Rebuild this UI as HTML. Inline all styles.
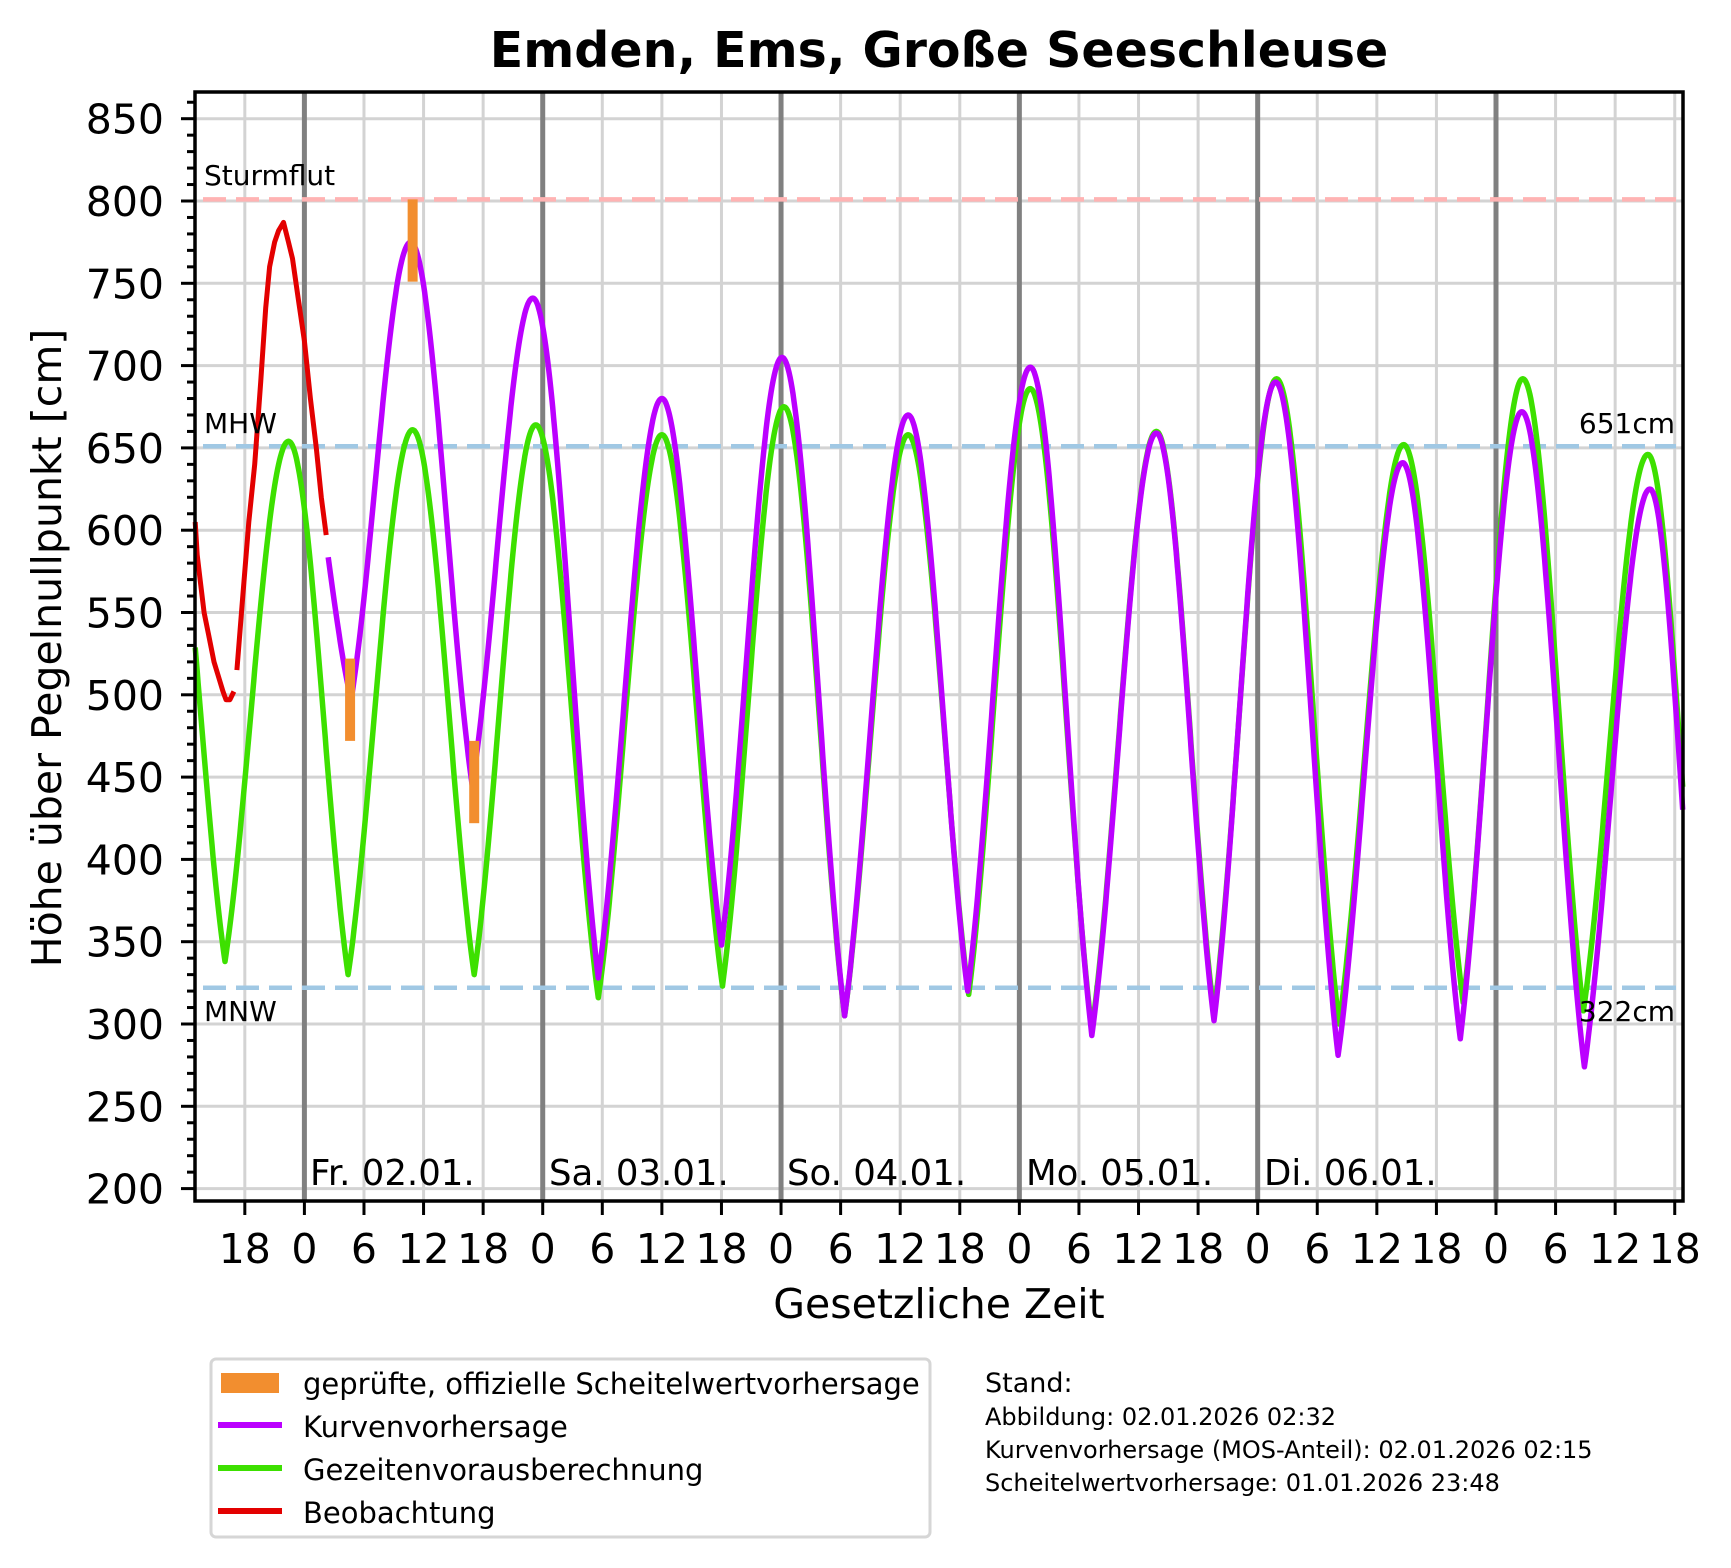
<!DOCTYPE html>
<html><head><meta charset="utf-8">
<style>
html,body{margin:0;padding:0;background:#fff;}
svg{display:block;}
text{font-family:"DejaVu Sans","Liberation Sans",sans-serif;fill:#000;}
</style></head>
<body>
<svg id="s" width="1731" height="1568" viewBox="0 0 1731 1568" xmlns="http://www.w3.org/2000/svg">
<rect width="1731" height="1568" fill="#fff"/>
<g id="grid"></g>
<g id="hl"></g>
<g id="curves"></g>
<g id="axes"></g>
<text x="939" y="67" font-size="49" font-weight="bold" text-anchor="middle">Emden, Ems, Große Seeschleuse</text>
<text x="939" y="1318" font-size="41" text-anchor="middle">Gesetzliche Zeit</text>
<text transform="translate(61,648) rotate(-90)" font-size="41" text-anchor="middle">Höhe über Pegelnullpunkt [cm]</text>
<text x="204" y="185" font-size="28">Sturmflut</text>
<text x="204" y="433" font-size="28">MHW</text>
<text x="204" y="1021" font-size="28">MNW</text>
<text x="1675" y="433" font-size="28" text-anchor="end">651cm</text>
<text x="1675" y="1021" font-size="28" text-anchor="end">322cm</text>
<text x="310" y="1185" font-size="35.5">Fr. 02.01.</text>
<text x="549" y="1185" font-size="35.5">Sa. 03.01.</text>
<text x="787" y="1185" font-size="35.5">So. 04.01.</text>
<text x="1026" y="1185" font-size="35.5">Mo. 05.01.</text>
<text x="1264" y="1185" font-size="35.5">Di. 06.01.</text>
<rect x="211" y="1359" width="719" height="178" rx="5" fill="#fff" stroke="#d6d6d6" stroke-width="3"/>
<rect x="221" y="1373" width="58" height="20" fill="#f28e2f"/>
<line x1="218" y1="1425" x2="282" y2="1425" stroke="#bb00ff" stroke-width="6"/>
<line x1="218" y1="1468" x2="282" y2="1468" stroke="#3de000" stroke-width="6"/>
<line x1="218" y1="1511" x2="282" y2="1511" stroke="#e30000" stroke-width="6"/>
<text x="303" y="1394" font-size="29">geprüfte, offizielle Scheitelwertvorhersage</text>
<text x="303" y="1437" font-size="29">Kurvenvorhersage</text>
<text x="303" y="1480" font-size="29">Gezeitenvorausberechnung</text>
<text x="303" y="1523" font-size="29">Beobachtung</text>
<text x="985" y="1392" font-size="27">Stand:</text>
<text x="985" y="1425" font-size="24">Abbildung: 02.01.2026 02:32</text>
<text x="985" y="1458" font-size="24">Kurvenvorhersage (MOS-Anteil): 02.01.2026 02:15</text>
<text x="985" y="1491" font-size="24">Scheitelwertvorhersage: 01.01.2026 23:48</text>
</svg>
<script>
var NS="http://www.w3.org/2000/svg";
var L=195,R=1683,T=92,B=1201;
function X(t){return 304.4+t*9.93;}
function Y(v){return 201-(v-800)*1.646;}
function el(p,n,a){var e=document.createElementNS(NS,n);for(var k in a)e.setAttribute(k,a[k]);p.appendChild(e);return e;}
var g=document.getElementById('grid'),ax=document.getElementById('axes'),hl=document.getElementById('hl'),cv=document.getElementById('curves');
for(var v=200;v<=850;v+=50)el(g,'line',{x1:L,x2:R,y1:Y(v),y2:Y(v),stroke:'#d3d3d3','stroke-width':3});
for(var t=-6;t<=138;t+=6){ if(t%24==0)continue; el(g,'line',{x1:X(t),x2:X(t),y1:T,y2:B,stroke:'#d3d3d3','stroke-width':3});}
for(var t=0;t<=120;t+=24)el(g,'line',{x1:X(t),x2:X(t),y1:T,y2:B,stroke:'#808080','stroke-width':5});
function hline(v,c){el(hl,'line',{x1:203,x2:1676,y1:Y(v),y2:Y(v),stroke:c,'stroke-width':4.5,'stroke-dasharray':'23 10'});}
hline(801,'#ffb3b3');hline(651,'#a0c8e4');hline(322,'#a0c8e4');
function curve(ext,t0,t1){
 var pts=[];
 for(var t=t0;t<=t1+1e-9;t+=0.1){
  var i=0;while(i<ext.length-2&&ext[i+1][0]<t)i++;
  var a=ext[i],b=ext[i+1];
  var f=(t-a[0])/(b[0]-a[0]);f=Math.max(0,Math.min(1,f));
  var lo,hi,ff;
  if(a[1]<b[1]){lo=a[1];hi=b[1];ff=f;}else{lo=b[1];hi=a[1];ff=1-f;}
  var gv=0.5*Math.sin(Math.PI*ff/2)+0.5*(1-Math.cos(Math.PI*ff))/2;
  var v=lo+(hi-lo)*gv;
  pts.push(X(t).toFixed(1)+','+Y(v).toFixed(1));
 }
 return pts.join(' ');
}
var green=[[-14,654],[-8,338],[-1.6,654],[4.4,330],[10.9,661],[17.1,330],[23.3,664],[29.6,316],[36,658],[42.1,323],[48.3,675],[54.4,305],[60.8,658],[66.9,318],[73.1,686],[79.3,296],[85.8,660],[91.6,306],[97.9,692],[104.2,300],[110.7,652],[116.7,313],[122.7,692],[128.8,308],[135.3,646],[140.8,300]];
var purple=[[-1.5,700],[4.7,497],[10.7,775],[16.9,445],[23,741],[29.6,328],[36,680],[42,348],[48.1,705],[54.4,305],[60.8,670],[66.8,320],[73.1,699],[79.3,293],[85.8,659],[91.6,302],[97.8,690],[104.1,281],[110.6,641],[116.4,291],[122.6,672],[128.9,274],[135.5,625],[140.8,280]];
el(cv,'polyline',{points:curve(green,-11,138.8),fill:'none',stroke:'#3de000','stroke-width':5.5,'stroke-linejoin':'round'});
el(cv,'polyline',{points:curve(purple,2.4,138.8),fill:'none',stroke:'#bb00ff','stroke-width':5.5,'stroke-linejoin':'round'});
function poly(arr,c){el(cv,'polyline',{points:arr.map(function(p){return X(p[0]).toFixed(1)+','+Y(p[1]).toFixed(1)}).join(' '),fill:'none',stroke:c,'stroke-width':5,'stroke-linejoin':'round'});}
poly([[-11,605],[-10.8,585],[-10.5,570],[-10.1,550],[-9.6,535],[-9.1,520],[-8.6,510],[-8.2,502],[-7.9,497],[-7.5,497],[-7.1,502]],'#e30000');
poly([[-6.8,515],[-6.2,560],[-5.6,605],[-5,640],[-4.4,690],[-3.9,735],[-3.5,760],[-3,775],[-2.6,782],[-2.1,787],[-1.6,775],[-1.2,765],[-0.6,740],[0,715],[0.6,680],[1.2,650],[1.7,620],[2.2,597]],'#e30000');
function bar(t,v1,v2){el(cv,'rect',{x:X(t)-5,y:Y(v2),width:10,height:Y(v1)-Y(v2),fill:'#f28e2f'});}
bar(4.6,472,522);bar(10.9,751,801);bar(17.1,422,472);
el(ax,'rect',{x:L,y:T,width:R-L,height:B-T,fill:'none',stroke:'#000','stroke-width':3.5});
for(var v=200;v<=860;v+=10){var maj=v%50==0;el(ax,'line',{x1:L-(maj?14:8),x2:L,y1:Y(v),y2:Y(v),stroke:'#000','stroke-width':3});
 if(maj){var tx=el(ax,'text',{x:164,y:Y(v)+15,'font-size':41,'text-anchor':'end'});tx.textContent=v;}}
for(var t=-6;t<=138;t+=6){el(ax,'line',{x1:X(t),x2:X(t),y1:B,y2:B+14,stroke:'#000','stroke-width':3});
 var h=((t%24)+24)%24;var tx=el(ax,'text',{x:X(t),y:1263,'font-size':41,'text-anchor':'middle'});tx.textContent=h;}
</script>
</body></html>
